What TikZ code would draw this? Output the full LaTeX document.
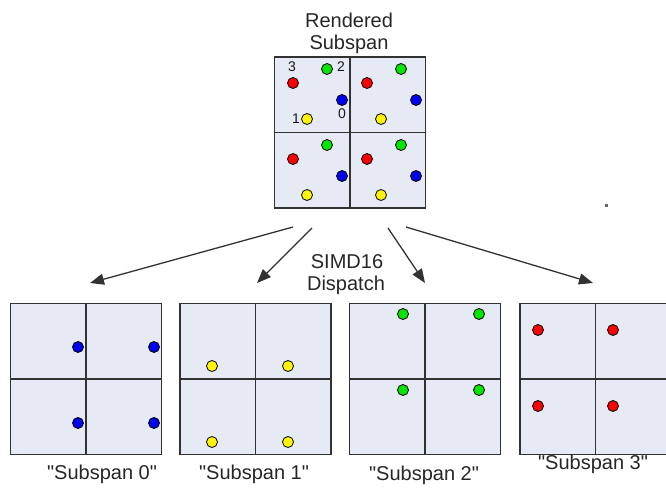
\documentclass[tikz,border=0pt]{standalone}
\usepackage{fontspec}
\setmainfont{Liberation Sans}[Ligatures=TeXOff]
\usetikzlibrary{arrows.meta}
\definecolor{panel}{RGB}{230,234,245}
\definecolor{edge}{RGB}{50,50,50}
\definecolor{dred}{RGB}{255,0,0}
\definecolor{dgreen}{RGB}{0,230,0}
\definecolor{dblue}{RGB}{0,0,240}
\definecolor{dyellow}{RGB}{255,245,0}
\tikzset{
  sq/.style={draw=edge, fill=panel, line width=1.6pt, minimum width=151pt, minimum height=151pt, inner sep=0pt, outer sep=0pt},
  div/.style={draw=edge, line width=1.6pt},
  pt/.style={draw=black, line width=0.8pt, circle, minimum size=11pt, inner sep=0pt},
  lbl/.style={font=\fontsize{20}{22}\selectfont, text=black!85, inner sep=0pt, anchor=base},
  num/.style={font=\fontsize{14}{14}\selectfont, text=black!90, inner sep=0pt},
  arr/.style={draw=edge, line width=1.3pt, -{Triangle[length=14pt,width=11pt]}}
}
\begin{document}
\begin{tikzpicture}[x=1pt,y=-1pt]
\useasboundingbox (0,0) rectangle (666,487);

% top rendered subspan
\node[lbl] (t1) at (349,28) {Rendered};
\node[lbl] (t2) at (349,50) {Subspan};
\node[sq] (top) at (350,132.5) {};
\draw[div] (top.north) -- (top.south);
\draw[div] (top.west) -- (top.east);
\foreach \qx/\qy [count=\i] in {275/57, 349/57, 275/133, 349/133}{
  \node[pt, fill=dgreen]  (tg\i) at (\qx+52,\qy+12) {};
  \node[pt, fill=dred]    (tr\i) at (\qx+18,\qy+26) {};
  \node[pt, fill=dblue]   (tb\i) at (\qx+67,\qy+43) {};
  \node[pt, fill=dyellow] (ty\i) at (\qx+32,\qy+62) {};
}
\node[num] (n3) at (292,67) {3};
\node[num] (n2) at (341,67) {2};
\node[num] (n1) at (296,119) {1};
\node[num] (n0) at (342,114) {0};

% dispatch text
\node[lbl] (d1) at (347,268) {SIMD16};
\node[lbl] (d2) at (346,290) {Dispatch};

% bottom squares
\node[sq] (s0) at (86,379) {};
\node[sq] (s1) at (255.5,379) {};
\node[sq] (s2) at (425,379) {};
\node[sq] (s3) at (595.5,379) {};
\foreach \s in {s0,s1,s2,s3}{
  \draw[div] (\s.north) -- (\s.south);
  \draw[div] (\s.west) -- (\s.east);
}
\foreach \qx/\qy [count=\i] in {10/303, 86/303, 10/379, 86/379}{
  \node[pt, fill=dblue] (b\i) at (\qx+68,\qy+44) {};
}
\foreach \qx/\qy [count=\i] in {180/303, 256/303, 180/379, 256/379}{
  \node[pt, fill=dyellow] (y\i) at (\qx+32,\qy+63) {};
}
\foreach \qx/\qy [count=\i] in {349/303, 425/303, 349/379, 425/379}{
  \node[pt, fill=dgreen] (g\i) at (\qx+54,\qy+11) {};
}
\foreach \qx/\qy [count=\i] in {520/303, 595/303, 520/379, 595/379}{
  \node[pt, fill=dred] (r\i) at (\qx+18,\qy+27) {};
}

\node[lbl] (l0) at (102,479) {"Subspan 0"};
\node[lbl] (l1) at (254,479) {"Subspan 1"};
\node[lbl] (l2) at (424,480) {"Subspan 2"};
\node[lbl] (l3) at (593,469) {"Subspan 3"};

% arrows
\coordinate (a0s) at (293,227);
\coordinate (a0e) at (90,283);
\coordinate (a1s) at (312,228);
\coordinate (a1e) at (257,283);
\coordinate (a2s) at (388,228);
\coordinate (a2e) at (425,283);
\coordinate (a3s) at (406,227);
\coordinate (a3e) at (593,283);
\draw[arr] (a0s) -- (a0e);
\draw[arr] (a1s) -- (a1e);
\draw[arr] (a2s) -- (a2e);
\draw[arr] (a3s) -- (a3e);

% stray mark
\fill[black!60] (604.5,203.5) rectangle (607.5,206.5);
\end{tikzpicture}
\end{document}
